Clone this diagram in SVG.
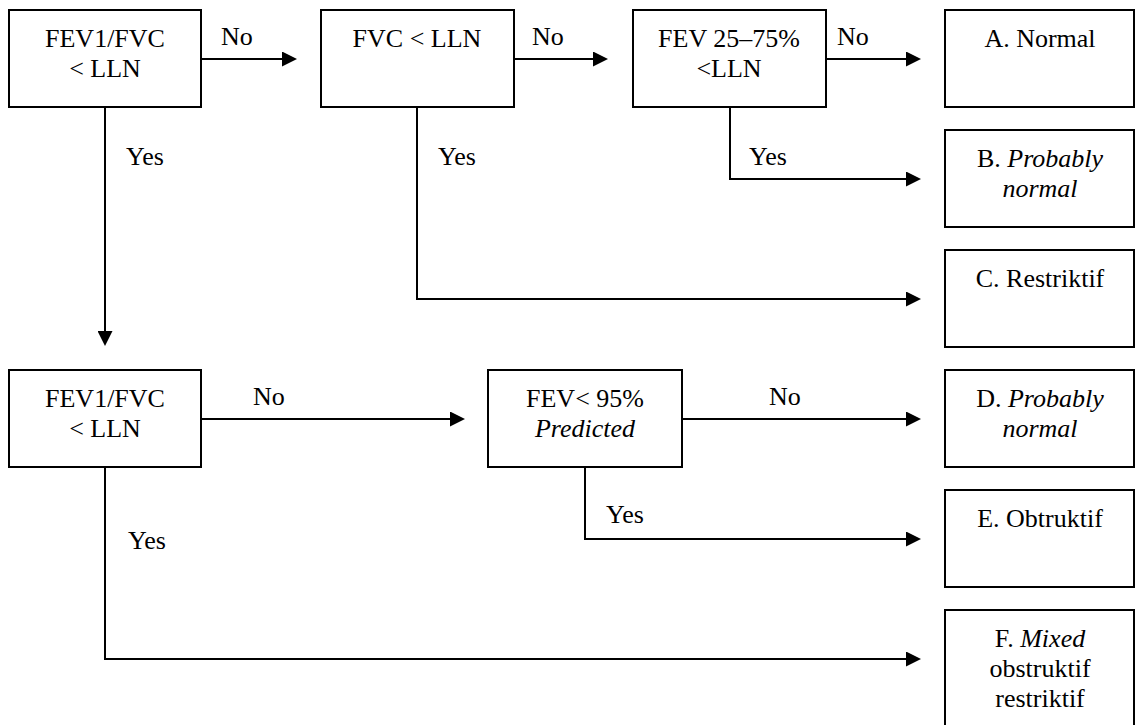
<svg xmlns="http://www.w3.org/2000/svg" width="1136" height="725" viewBox="0 0 1136 725">
  <style>
    .box { fill: #ffffff; stroke: #000000; stroke-width: 2; }
    text { font-family: "Liberation Serif", "Times New Roman", Times, "DejaVu Serif", serif; font-size: 26px; fill: #000000; }
    .c { text-anchor: middle; }
    .it { font-style: italic; }
    .wire { fill: none; stroke: #000000; stroke-width: 2; marker-end: url(#arr); }
  </style>
  <defs>
    <marker id="arr" viewBox="0 0 15 15" refX="5" refY="7.5" markerWidth="15" markerHeight="15" markerUnits="userSpaceOnUse" orient="auto">
      <path d="M0,0 L15,7.5 L0,15 Z" fill="#000000"/>
    </marker>
  </defs>
  <rect width="1136" height="725" fill="#ffffff"/>

  <!-- connectors -->
  <g id="connectors">
    <path class="wire" d="M201,59 H287"/>
    <path class="wire" d="M514,59 H598"/>
    <path class="wire" d="M826,59 H911"/>
    <path class="wire" d="M730,107 V179 H911"/>
    <path class="wire" d="M417,107 V299 H911"/>
    <path class="wire" d="M105,107 V336"/>
    <path class="wire" d="M201,419 H455"/>
    <path class="wire" d="M682,419 H911"/>
    <path class="wire" d="M585,467 V539 H911"/>
    <path class="wire" d="M105,467 V659 H911"/>
  </g>

  <!-- branch labels -->
  <g id="labels">
    <text x="221" y="45">No</text>
    <text x="532" y="45">No</text>
    <text x="837" y="45">No</text>
    <text x="126" y="165">Yes</text>
    <text x="438" y="165">Yes</text>
    <text x="749" y="165">Yes</text>
    <text x="253" y="405">No</text>
    <text x="769" y="405">No</text>
    <text x="128" y="549">Yes</text>
    <text x="606" y="523">Yes</text>
  </g>

  <!-- decision nodes -->
  <g id="q-ratio-1">
    <rect class="box" x="9" y="10" width="192" height="97"/>
    <text class="c" x="105" y="46.5">FEV1/FVC</text>
    <text class="c" x="105" y="77">&lt; LLN</text>
  </g>
  <g id="q-fvc">
    <rect class="box" x="321" y="10" width="193" height="97"/>
    <text class="c" x="417" y="46.5">FVC &lt; LLN</text>
  </g>
  <g id="q-fef">
    <rect class="box" x="633" y="10" width="193" height="97"/>
    <text class="c" x="729" y="46.5">FEV 25–75%</text>
    <text class="c" x="729" y="77">&lt;LLN</text>
  </g>
  <g id="q-ratio-2">
    <rect class="box" x="9" y="370" width="192" height="97"/>
    <text class="c" x="105" y="406.5">FEV1/FVC</text>
    <text class="c" x="105" y="437">&lt; LLN</text>
  </g>
  <g id="q-fev95">
    <rect class="box" x="488" y="370" width="194" height="97"/>
    <text class="c" x="585" y="406.5">FEV&lt; 95%</text>
    <text class="c it" x="585" y="437">Predicted</text>
  </g>

  <!-- outcome nodes -->
  <g id="out-a">
    <rect class="box" x="945" y="10" width="189" height="97"/>
    <text class="c" x="1040" y="46.5">A. Normal</text>
  </g>
  <g id="out-b">
    <rect class="box" x="945" y="130" width="189" height="97"/>
    <text class="c" x="1040" y="166.5">B. <tspan class="it">Probably</tspan></text>
    <text class="c it" x="1040" y="196.5">normal</text>
  </g>
  <g id="out-c">
    <rect class="box" x="945" y="250" width="189" height="97"/>
    <text class="c" x="1040" y="286.5">C. Restriktif</text>
  </g>
  <g id="out-d">
    <rect class="box" x="945" y="370" width="189" height="97"/>
    <text class="c" x="1040" y="406.5">D. <tspan class="it">Probably</tspan></text>
    <text class="c it" x="1040" y="436.5">normal</text>
  </g>
  <g id="out-e">
    <rect class="box" x="945" y="490" width="189" height="97"/>
    <text class="c" x="1040" y="526.5">E. Obtruktif</text>
  </g>
  <g id="out-f">
    <rect class="box" x="945" y="610" width="189" height="130"/>
    <text class="c" x="1040" y="646.5">F. <tspan class="it">Mixed</tspan></text>
    <text class="c" x="1040" y="676.5">obstruktif</text>
    <text class="c" x="1040" y="706.5">restriktif</text>
  </g>
</svg>
